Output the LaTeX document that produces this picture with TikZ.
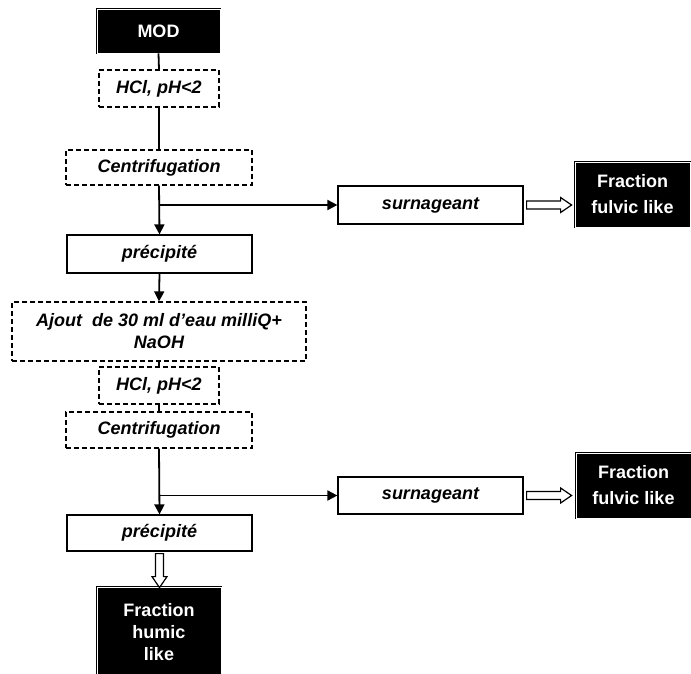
\documentclass[tikz,border=0pt]{standalone}
\usepackage{fontspec}
\setmainfont{Liberation Sans}
\usepackage{tikz}
\usetikzlibrary{arrows.meta, calc}
\tikzset{
  % Flowchart styles
  stepbox/.style={rectangle, draw=black, line width=1.2pt, fill=white, align=center, inner sep=0pt, font=\fontsize{18}{22}\selectfont\bfseries\itshape},
  opbox/.style={stepbox, dash pattern=on 5pt off 3pt},
  resbox/.style={rectangle, draw=black, fill=black, double=white, double distance=0.7pt, line width=0.9pt, align=center, inner sep=0pt, text=white, font=\fontsize{18}{22}\selectfont\bfseries},
  link/.style={line width=1.8pt},
  arrow/.style={line width=1.8pt, -{Triangle[length=10pt, width=10pt]}},
  hollow/.style={line width=1.2pt, fill=white, line join=miter},
}
\begin{document}
\begin{tikzpicture}[x=1pt, y=-1pt]
    \useasboundingbox (0,0) rectangle (691,673);

    % Main column
    \node[resbox, minimum width=123pt, minimum height=44pt] (mod) at (158.5,31) {MOD};
    \node[opbox, minimum width=120pt, minimum height=37pt] (hcl1) at (159,88.5) {HCl, pH<2};
    \node[opbox, minimum width=186pt, minimum height=35pt] (centri1) at (159,167.5) {Centrifugation};
    \node[stepbox, minimum width=185pt, minimum height=38pt] (prec1) at (159.5,254) {précipité};
    \node[opbox, minimum width=294pt, minimum height=59pt] (ajout) at (159,331.5) {Ajout \ de 30 ml d’eau milliQ+\\NaOH};
    \node[opbox, minimum width=120pt, minimum height=37pt] (hcl2) at (159,385.5) {HCl, pH<2};
    \node[opbox, minimum width=186pt, minimum height=36pt] (centri2) at (159,430) {Centrifugation};
    \node[stepbox, minimum width=185pt, minimum height=36pt] (prec2) at (159.5,533) {précipité};
    \node[resbox, minimum width=124pt, minimum height=90pt] (humic) at (159,632) {Fraction\\humic\\like};

    % Side branches
    \node[stepbox, minimum width=185pt, minimum height=38pt] (surn1) at (430.5,205) {surnageant};
    \node[resbox, minimum width=115pt, minimum height=65pt, font=\fontsize{18}{26}\selectfont\bfseries] (fulv1) at (632.5,194.5) {Fraction\\fulvic like};
    \node[stepbox, minimum width=185pt, minimum height=37pt] (surn2) at (430.5,495.5) {surnageant};
    \node[resbox, minimum width=115pt, minimum height=65pt, font=\fontsize{18}{26}\selectfont\bfseries] (fulv2) at (633.5,485.5) {Fraction\\fulvic like};

    % Connectors
    \draw[link] (mod.south) -- (hcl1.north);
    \draw[link] (hcl1.south) -- (centri1.north);
    \draw[arrow] (centri1.south) -- (prec1.north);
    \draw[arrow] (centri1.south |- surn1.west) -- (surn1.west);
    \draw[arrow] (prec1.south) -- (ajout.north);
    \draw[link] (ajout.south) -- (hcl2.north);
    \draw[link] (hcl2.south) -- (centri2.north);
    \draw[arrow] (centri2.south) -- (prec2.north);
    \draw[arrow] (centri2.south |- surn2.west) -- (surn2.west);

    % Hollow arrows
    \draw[hollow] ($(surn1.east)+(3,-4)$) -- ++(34,0) -- ++(0,-3.5) -- ++(11,7.5) -- ++(-11,7.5) -- ++(0,-3.5) -- ++(-34,0) -- cycle;
    \draw[hollow] ($(surn2.east)+(3,-4)$) -- ++(34,0) -- ++(0,-3.5) -- ++(11,7.5) -- ++(-11,7.5) -- ++(0,-3.5) -- ++(-34,0) -- cycle;
    \draw[hollow] ($(prec2.south)+(-4,2)$) -- ++(0,23) -- ++(-3.5,0) -- ++(7.5,11) -- ++(7.5,-11) -- ++(-3.5,0) -- ++(0,-23) -- cycle;
\end{tikzpicture}
\end{document}
